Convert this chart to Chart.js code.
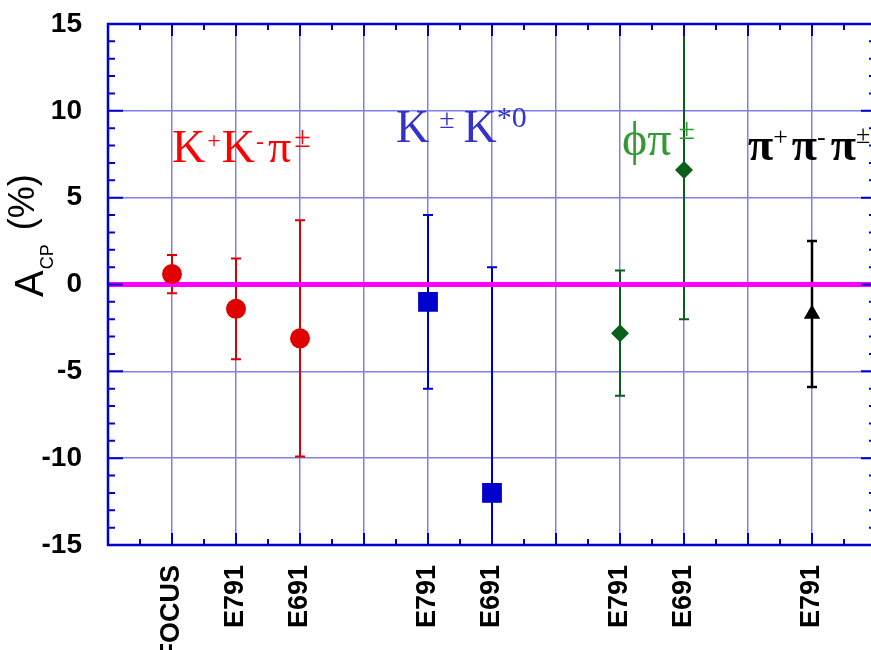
<!DOCTYPE html>
<html>
<head>
<meta charset="utf-8">
<script src="https://cdn.jsdelivr.net/npm/chart.js@4.4.1/dist/chart.umd.min.js"></script>
<style>
  html, body { margin: 0; padding: 0; background: #fff; overflow: hidden; }
  #wrap { width: 880px; height: 650px; }
</style>
</head>
<body>
<div id="wrap"><canvas id="acpChart" width="880" height="650"></canvas></div>
<script>
// x slots and the experiment written under each one
const slots = [1, 2, 3, 5, 6, 8, 9, 11];
const experiments = ['FOCUS', 'E791', 'E691', 'E791', 'E691', 'E791', 'E691', 'E791'];
const yTickValues = [-15, -10, -5, 0, 5, 10, 15];

// A_CP (%) with its error, per decay mode
const kkpiSlots = [1, 2, 3];
const kkpiAcp = [0.6, -1.4, -3.1];
const kkpiErr = [1.1, 2.9, 6.8];

const kkstarSlots = [5, 6];
const kkstarAcp = [-1.0, -12.0];
const kkstarErr = [5.0, 13.0];

const phipiSlots = [8, 9];
const phipiAcp = [-2.8, 6.6];
const phipiErr = [3.6, 8.6];

const pipipiSlots = [11];
const pipipiAcp = [-1.7];
const pipipiErr = [4.2];

function toPoints(xs, ys, errs) {
    return xs.map((x, i) => ({ x: x, y: ys[i], err: errs[i] }));
}

const SANS = "'Liberation Sans', Arial, sans-serif";
const SERIF = "'Liberation Serif', 'Times New Roman', 'DejaVu Serif', serif";

// vertical error bars with small caps, clipped to the plot frame
const errorBars = {
    id: 'errorBars',
    beforeDatasetsDraw(chart) {
        const { ctx, chartArea: a, scales: { x, y } } = chart;
        ctx.save();
        ctx.beginPath();
        ctx.rect(a.left, a.top, a.right - a.left, a.bottom - a.top);
        ctx.clip();
        chart.data.datasets.forEach(ds => {
            if (!ds.barColor) return;
            ctx.strokeStyle = ds.barColor;
            ctx.lineWidth = ds.barWidth;
            ds.data.forEach(p => {
                const px = x.getPixelForValue(p.x);
                const hi = y.getPixelForValue(p.y + p.err);
                const lo = y.getPixelForValue(p.y - p.err);
                const cap = 5;
                ctx.beginPath();
                ctx.moveTo(px, hi); ctx.lineTo(px, lo);
                ctx.moveTo(px - cap, hi); ctx.lineTo(px + cap, hi);
                ctx.moveTo(px - cap, lo); ctx.lineTo(px + cap, lo);
                ctx.stroke();
            });
        });
        ctx.restore();
    }
};

// box around the plot with inward ticks on all four sides
const frame = {
    id: 'frame',
    afterDatasetsDraw(chart) {
        const { ctx, chartArea: a, scales: { x, y } } = chart;
        ctx.save();
        ctx.strokeStyle = '#0000d0';
        ctx.lineWidth = 2;
        ctx.beginPath();
        for (let v = -15; v <= 15; v++) {
            const py = y.getPixelForValue(v);
            const len = v % 5 === 0 ? 15 : 7;
            ctx.moveTo(a.left, py); ctx.lineTo(a.left + len, py);
            ctx.moveTo(a.right, py); ctx.lineTo(a.right - len, py);
        }
        for (let v = 0; v <= 12; v += 0.5) {
            const px = x.getPixelForValue(v);
            const len = Number.isInteger(v) ? 12 : 6;
            ctx.moveTo(px, a.bottom); ctx.lineTo(px, a.bottom - len);
            ctx.moveTo(px, a.top); ctx.lineTo(px, a.top + len);
        }
        ctx.stroke();
        ctx.lineWidth = 2.5;
        ctx.strokeRect(a.left, a.top, a.right - a.left, a.bottom - a.top);
        ctx.restore();
    }
};

// draws a run of text pieces; each piece may be resized, raised and nudged
function drawRich(ctx, x0, y0, color, parts) {
    ctx.save();
    ctx.fillStyle = color;
    ctx.textAlign = 'left';
    ctx.textBaseline = 'alphabetic';
    let x = x0;
    parts.forEach(p => {
        ctx.font = p.font;
        x += p.gap || 0;
        ctx.fillText(p.t, x, y0 + (p.dy || 0));
        x += ctx.measureText(p.t).width;
    });
    ctx.restore();
}

const modeLabels = {
    id: 'modeLabels',
    afterDraw(chart) {
        const { ctx, scales: { x, y } } = chart;
        const big = '46px ' + SERIF;
        const sup = '24px ' + SERIF;

        drawRich(ctx, x.getPixelForValue(1), y.getPixelForValue(7.05), '#ff0000', [
            { t: 'K', font: big },
            { t: '+', font: sup, dy: -14, gap: 2 },
            { t: 'K', font: big, gap: 1 },
            { t: '-', font: sup, dy: -13, gap: 1 },
            { t: '\u03c0', font: big, gap: 4 },
            { t: '\u00b1', font: '30px ' + SERIF, dy: -15, gap: 3 }
        ]);

        drawRich(ctx, x.getPixelForValue(4.5), y.getPixelForValue(8.2), '#3333cc', [
            { t: 'K', font: big },
            { t: '\u00b1', font: '28px ' + SERIF, dy: -14, gap: 10 },
            { t: 'K', font: big, gap: 9 },
            { t: '*0', font: '30px ' + SERIF, dy: -15 }
        ]);

        drawRich(ctx, x.getPixelForValue(8) + 2, y.getPixelForValue(7.45), '#339933', [
            { t: '\u03d5', font: '48px ' + SERIF },
            { t: '\u03c0', font: '48px ' + SERIF },
            { t: '\u00b1', font: '30px ' + SERIF, dy: -16, gap: 7 }
        ]);

        const bold = 'bold 46px ' + SERIF;
        const bsup = '26px ' + SERIF;
        drawRich(ctx, x.getPixelForValue(10), y.getPixelForValue(7.17), '#000000', [
            { t: '\u03c0', font: bold },
            { t: '+', font: bsup, dy: -15 },
            { t: '\u03c0', font: bold, gap: 4 },
            { t: '-', font: bsup, dy: -15 },
            { t: '\u03c0', font: bold, gap: 5 },
            { t: '\u00b1', font: bsup, dy: -17 }
        ]);

        // rotated y axis title: A_CP (%)
        ctx.save();
        ctx.translate(43, 297);
        ctx.rotate(-Math.PI / 2);
        ctx.fillStyle = '#000';
        ctx.textBaseline = 'alphabetic';
        ctx.font = '40px ' + SANS;
        ctx.fillText('A', 0, 0);
        let w = ctx.measureText('A').width;
        ctx.font = '18px ' + SANS;
        ctx.fillText('CP', w + 1, 10);
        w += 1 + ctx.measureText('CP').width;
        ctx.font = '36px ' + SANS;
        ctx.fillText('(%)', w + 14, -9);
        ctx.restore();
    }
};

const zeroLine = [{ x: 0, y: 0 }, { x: 12, y: 0 }];

new Chart(document.getElementById('acpChart'), {
    type: 'scatter',
    data: {
        datasets: [
            {
                type: 'line',
                data: zeroLine,
                borderColor: '#ff00ff',
                borderWidth: 5,
                pointRadius: 0,
                order: 10
            },
            {
                data: toPoints(kkpiSlots, kkpiAcp, kkpiErr),
                pointStyle: 'circle',
                pointRadius: 10,
                pointBorderWidth: 0,
                backgroundColor: '#e00000',
                barColor: '#dd0000',
                barWidth: 2,
                order: 1
            },
            {
                data: toPoints(kkstarSlots, kkstarAcp, kkstarErr),
                pointStyle: 'rect',
                pointRadius: 14,
                pointBorderWidth: 0,
                backgroundColor: '#0000cc',
                barColor: '#0000cc',
                barWidth: 2,
                order: 1
            },
            {
                data: toPoints(phipiSlots, phipiAcp, phipiErr),
                pointStyle: 'rectRot',
                pointRadius: 9,
                pointBorderWidth: 0,
                backgroundColor: '#0a5f1a',
                barColor: '#0a5f1a',
                barWidth: 2,
                order: 1
            },
            {
                data: toPoints(pipipiSlots, pipipiAcp, pipipiErr),
                pointStyle: 'triangle',
                pointRadius: 9.5,
                pointBorderWidth: 0,
                backgroundColor: '#000000',
                barColor: '#000000',
                barWidth: 2.5,
                order: 1
            }
        ]
    },
    options: {
        responsive: false,
        animation: false,
        devicePixelRatio: 1,
        layout: { autoPadding: false, padding: { top: 24, right: 4, left: 0, bottom: 0 } },
        plugins: {
            legend: { display: false },
            tooltip: { enabled: false }
        },
        scales: {
            x: {
                type: 'linear',
                min: 0,
                max: 12,
                afterBuildTicks: scale => {
                    const t = [];
                    for (let v = 0; v <= 12; v++) t.push({ value: v });
                    scale.ticks = t;
                },
                afterFit: scale => {
                    scale.height = 105;
                    scale.paddingLeft = 0;
                    scale.paddingRight = 0;
                },
                border: { display: false },
                grid: {
                    color: c => (c.tick && c.tick.value > 0 && c.tick.value < 12) ? '#8080e8' : 'rgba(0,0,0,0)',
                    lineWidth: 1.5,
                    drawTicks: false
                },
                ticks: {
                    autoSkip: false,
                    minRotation: 90,
                    maxRotation: 90,
                    padding: 20,
                    color: '#000',
                    font: { family: SANS, size: 27, weight: 'bold' },
                    callback: v => {
                        const i = slots.indexOf(v);
                        return i >= 0 ? experiments[i] : '';
                    }
                }
            },
            y: {
                type: 'linear',
                min: -15,
                max: 15,
                afterBuildTicks: scale => {
                    scale.ticks = yTickValues.map(v => ({ value: v }));
                },
                afterFit: scale => {
                    scale.width = 108;
                    scale.paddingTop = 0;
                    scale.paddingBottom = 0;
                },
                border: { display: false },
                grid: {
                    color: c => (c.tick && Math.abs(c.tick.value) < 15) ? '#8080e8' : 'rgba(0,0,0,0)',
                    lineWidth: 1.5,
                    drawTicks: false
                },
                ticks: {
                    padding: 26,
                    color: '#000',
                    font: { family: SANS, size: 28, weight: 'bold' }
                }
            }
        }
    },
    plugins: [errorBars, frame, modeLabels]
});
</script>
</body>
</html>
